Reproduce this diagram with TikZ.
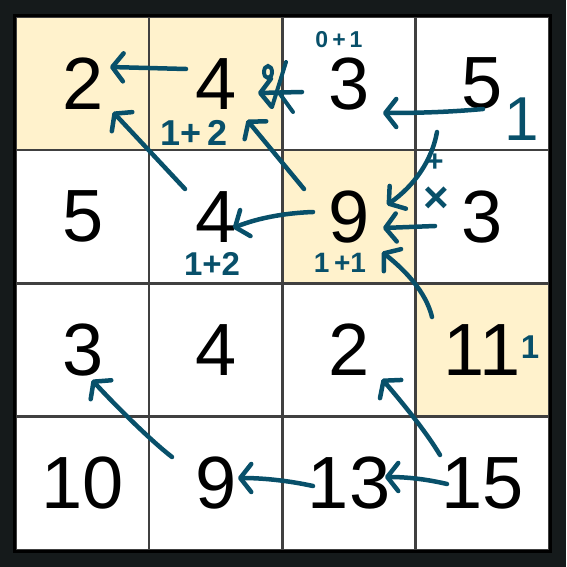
\documentclass[tikz,border=0pt]{standalone}
\usepackage{fontspec}
\setmainfont{Liberation Sans}
\usetikzlibrary{arrows.meta}

\definecolor{pagebg}{HTML}{151A1B}
\definecolor{cellhl}{HTML}{FFF2CC}
\definecolor{gridln}{HTML}{404040}
\definecolor{ink}{HTML}{08506A}

\tikzset{
  cell/.style={draw=gridln, line width=2.5pt, minimum size=133.25pt, inner sep=0pt,
    font=\fontsize{74}{74}\selectfont},
  hand/.style={draw=ink, line width=4.5pt, line cap=round, line join=round,
    -{Straight Barb[length=11pt,width=28pt,round]}},
  scrib/.style={draw=ink, line width=4pt, line cap=round},
  note/.style={text=ink, inner sep=0pt, font=\bfseries\fontsize{#1}{#1}\selectfont},
  thin note/.style={text=ink, inner sep=0pt, font=\fontsize{#1}{#1}\selectfont},
}

\begin{document}
\begin{tikzpicture}[x=1pt,y=-1pt]
\fill[pagebg] (0,0) rectangle (566,567);
\useasboundingbox (0,0) rectangle (566,567);

% grid of values
\foreach \r/\c/\v/\f in {0/0/2/cellhl, 0/1/4/cellhl, 0/2/3/white, 0/3/5/white,
  1/0/5/white, 1/1/4/white, 1/2/9/cellhl, 1/3/3/white,
  2/0/3/white, 2/1/4/white, 2/2/2/white, 2/3/11/cellhl,
  3/0/10/white, 3/1/9/white, 3/2/13/white, 3/3/15/white}
  \node[cell, fill=\f] (n\r\c) at ({82.6+133.25*\c},{83.6+133.25*\r}) {\v};
\draw[black, line width=3pt] (n00.north west) rectangle (n33.south east);

% arrow ends
\coordinate (top4w) at (186,69);   \coordinate (top2e) at (110,67);
\coordinate (mid4nw) at (185,189); \coordinate (top2se) at (113,112);
\coordinate (mid9nw) at (304,189); \coordinate (top4se) at (247,120);
\coordinate (top3w) at (302,92);   \coordinate (top4e) at (258,93);
\coordinate (top5w) at (483,109);  \coordinate (top3se) at (383,113);
\coordinate (top5sw) at (437,132); \coordinate (mid9ne) at (387,205);
\coordinate (mid3w) at (435,226);  \coordinate (mid9e) at (383,228);
\coordinate (row11nw) at (432,317);\coordinate (mid9se) at (382,252);
\coordinate (mid9w) at (313,212);  \coordinate (mid4e) at (233,228);
\coordinate (low9nw) at (172,457); \coordinate (row3se) at (92,380);
\coordinate (low13w) at (313,486); \coordinate (low9e) at (238,478);
\coordinate (low15w) at (447,484); \coordinate (low13e) at (385,477);
\coordinate (low15nw) at (440,455);\coordinate (row2se) at (382,379);

% arrows
\draw[hand] (top4w) -- (top2e);
\draw[hand] (mid4nw) -- (top2se);
\draw[hand] (mid9nw) -- (top4se);
\draw[hand] (top3w) -- (top4e);
\draw[hand] (top5w) .. controls (450,112) and (420,113) .. (top3se);
\draw[hand] (top5sw) .. controls (432,160) and (415,185) .. (mid9ne);
\draw[hand] (mid3w) -- (mid9e);
\draw[hand] (row11nw) .. controls (426,292) and (405,270) .. (mid9se);
\draw[hand] (mid9w) .. controls (285,213) and (258,218) .. (mid4e);
\draw[hand] (low9nw) .. controls (150,440) and (115,405) .. (row3se);
\draw[hand] (low13w) .. controls (290,481) and (265,478) .. (low9e);
\draw[hand] (low15w) .. controls (430,480) and (410,477) .. (low13e);
\draw[hand] (low15nw) .. controls (425,430) and (400,400) .. (row2se);

% crossed out
\draw[scrib] (286,62) -- (272,107);
\draw[scrib] (280,94) -- (293,112);
\draw[scrib] (268,72) ellipse (4pt and 6pt);

% notes
\node[note=36] (sum4a) at (194,133) {1+\,2};
\node[note=33] (sum4b) at (212,264) {1+2};
\node[note=28] (sum9) at (340,263) {1\,+1};
\node[note=23] (sum3) at (339,40) {0\hspace{4pt}+\hspace{4pt}1};
\node[thin note=62] (one5) at (522,119) {1};
\node[note=33] (one11) at (530,347) {1};
\node[note=30] (plus9) at (435,163) {+};
\node[note=44] (cross9) at (436,200) {×};
\end{tikzpicture}
\end{document}
